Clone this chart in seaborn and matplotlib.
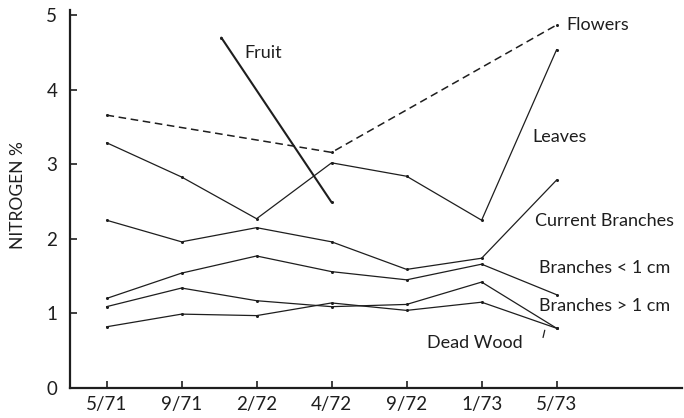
import numpy as np
import pandas as pd
import matplotlib
matplotlib.use("Agg")
import matplotlib.pyplot as plt
import seaborn as sns

# sampling dates (x categories) and nitrogen % by plant part
dates = ["5/71", "9/71", "2/72", "4/72", "9/72", "1/73", "5/73"]
pos = [0, 1, 2, 3, 4, 5, 6]

flowers_x = [0, 3, 6]
flowers = [3.66, 3.16, 4.87]
fruit_x = [1.53, 3]
fruit = [4.70, 2.49]
leaves = [3.29, 2.83, 2.27, 3.02, 2.84, 2.25, 4.54]
current_branches = [2.25, 1.96, 2.15, 1.96, 1.59, 1.74, 2.79]
branches_lt1 = [1.20, 1.54, 1.77, 1.56, 1.45, 1.66, 1.25]
branches_gt1 = [1.09, 1.34, 1.17, 1.09, 1.12, 1.42, 0.80]
dead_wood = [0.82, 0.99, 0.97, 1.14, 1.04, 1.15, 0.80]

sns.set_style("ticks")
plt.rcParams['font.family'] = ['Lato', 'DejaVu Sans']

fig = plt.figure(figsize=(6.84, 4.18), dpi=100)
ax = fig.add_axes([0.102, 0.072, 0.895, 0.904])

ink = "#1e1e1e"
kw = dict(ax=ax, color=ink, marker="o", markersize=2.2, markeredgewidth=0)

sns.lineplot(x=flowers_x, y=flowers, linestyle=(0, (5, 3)), linewidth=1.1, **kw)
sns.lineplot(x=fruit_x, y=fruit, linewidth=1.5, **kw)
for vals in [leaves, current_branches, branches_lt1, branches_gt1, dead_wood]:
    sns.lineplot(x=pos, y=vals, linewidth=0.9, **kw)

# curve labels
fs = 13
ax.text(6.13, 4.87, "Flowers", fontsize=fs, va="center", color=ink)
ax.text(1.84, 4.49, "Fruit", fontsize=fs, va="center", color=ink)
ax.text(5.68, 3.36, "Leaves", fontsize=fs, va="center", color=ink)
ax.text(5.71, 2.24, "Current Branches", fontsize=fs, va="center", color=ink, clip_on=False)
ax.text(5.76, 1.61, "Branches < 1 cm", fontsize=fs, va="center", color=ink)
ax.text(5.76, 1.10, "Branches > 1 cm", fontsize=fs, va="center", color=ink)
ax.text(4.27, 0.60, "Dead Wood", fontsize=fs, va="center", color=ink)
ax.annotate("", xy=(5.85, 0.81), xytext=(5.81, 0.64),
            arrowprops=dict(arrowstyle="-", color=ink, lw=0.9))

ax.set_xlim(-0.49, 7.67)
ax.set_ylim(0, 5.07)
ax.set_xticks(pos)
ax.set_xticklabels(dates, fontsize=13.5)
ax.set_yticks([0, 1, 2, 3, 4, 5])
ax.set_yticklabels(["0", "1", "2", "3", "4", "5"], fontsize=13.5)
ax.tick_params(direction="in", length=5, width=1.2, color=ink, labelcolor=ink)
ax.tick_params(axis="y", pad=9)
ax.tick_params(axis="x", pad=6)
ax.set_xlabel("")
ax.set_ylabel("NITROGEN %", fontsize=12.5, color=ink)
ax.yaxis.set_label_coords(-0.072, 0.51)
sns.despine(ax=ax)
for s in ["left", "bottom"]:
    ax.spines[s].set_linewidth(1.6)
    ax.spines[s].set_color(ink)

fig.savefig("out.png", dpi=100)
